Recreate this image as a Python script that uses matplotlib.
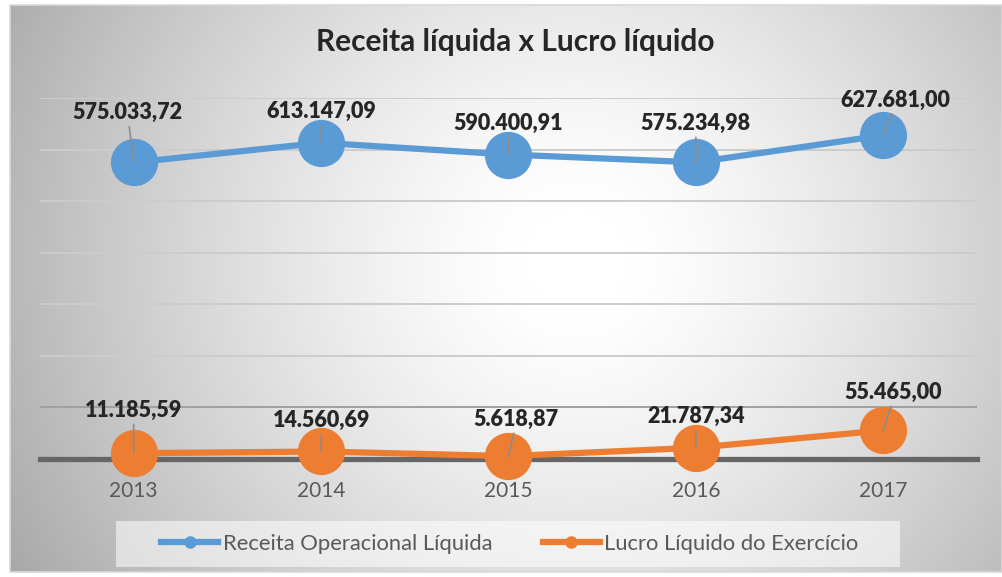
import numpy as np
import matplotlib.pyplot as plt
from matplotlib.lines import Line2D
from matplotlib.patches import Rectangle

years = ["2013", "2014", "2015", "2016", "2017"]
receita = [575033.72, 613147.09, 590400.91, 575234.98, 627681.00]
lucro = [11185.59, 14560.69, 5618.87, 21787.34, 55465.00]
series_names = ["Receita Operacional Líquida", "Lucro Líquido do Exercício"]
title = "Receita líquida x Lucro líquido"

BLUE = "#5b9bd5"
ORANGE = "#ed7d31"
FONT = ["Lato", "DejaVu Sans"]

# label offsets in pixels (dx, dy) from each point
off_receita = [(-6, 50), (0, 31), (0, 31), (0, 39), (12, 35)]
off_lucro = [(0, 43), (0, 31), (7, 37), (0, 31), (10, 38)]


def fmt_br(v):
    s = f"{v:,.2f}"
    return s.replace(",", "X").replace(".", ",").replace("X", ".")


plt.rcParams['font.family'] = FONT
fig = plt.figure(figsize=(10.02, 5.77), dpi=100)

# background: radial gradient inside the chart border
bg = fig.add_axes([10/1002, 5/577, 992/1002, 567/577], zorder=-10)
h, w = 300, 520
yy, xx = np.mgrid[0:h, 0:w]
cx, cy = 0.57 * w, 0.55 * h
d = np.sqrt(((xx - cx) / w) ** 2 + ((yy - cy) / h * 0.6) ** 2)
d = d / d.max()
g = 1 - 0.34 * np.clip((d - 0.08) / 0.92, 0, 1) ** 1.3
bg.imshow(np.dstack([g, g, g]), aspect="auto", extent=[0, 1, 0, 1], origin="lower")
bg.set_axis_off()
fig.patches.append(Rectangle((10/1002, 5/577), 992/1002, 567/577, transform=fig.transFigure,
                             fill=False, ec="#d9d9d9", lw=1.2, zorder=-5))

ax = fig.add_axes([40/1002, 1 - 459/577, 937/1002, 361/577])
ax.patch.set_alpha(0)
x = np.arange(len(years))

ax.set_xlim(-0.5, len(years) - 0.5)
ax.set_ylim(0, 700000)
for yv in np.arange(100000, 700001, 100000):
    ax.axhline(yv, color="#a0a0a0" if yv == 100000 else "#cccccc", lw=1.4, zorder=1)
ax.axhline(0, color="#666666", lw=3.8, zorder=2, clip_on=False)

ax.plot(x, receita, color=BLUE, lw=4.5, marker="o", ms=33, zorder=4, clip_on=False)
ax.plot(x, lucro, color=ORANGE, lw=4.5, marker="o", ms=33, zorder=4, clip_on=False)

for vals, offs in ((receita, off_receita), (lucro, off_lucro)):
    for xi, v, (dx, dy) in zip(x, vals, offs):
        ax.annotate(fmt_br(v), (xi, v), xytext=(dx, dy), textcoords="offset pixels",
                    ha="center", va="center", fontsize=15.5, fontweight="heavy",
                    color="#262626", zorder=6)
        ax.annotate("", (xi, v), xytext=(dx * 0.75, dy - 14), textcoords="offset pixels",
                    arrowprops=dict(arrowstyle="-", color="#8c8c8c", lw=1.2,
                                    shrinkA=0, shrinkB=0), zorder=5)

ax.set_xticks(x)
ax.set_xticklabels(years)
ax.tick_params(axis="x", length=0, labelsize=15, labelcolor="#595959", pad=16)
ax.set_yticks([])
for sp in ax.spines.values():
    sp.set_visible(False)

fig.text(515/1002, 1 - 42/577, title, ha="center", va="center",
         fontsize=21.5, fontweight="bold", color="#262626")

fig.patches.append(Rectangle((116/1002, 1 - 567/577), 784/1002, 46/577,
                             transform=fig.transFigure, color="white", alpha=0.55, lw=0))
handles = [Line2D([], [], color=BLUE, lw=4.5, marker="o", ms=8),
           Line2D([], [], color=ORANGE, lw=4.5, marker="o", ms=8)]
fig.legend(handles, series_names, loc="center", bbox_to_anchor=(510/1002, 1 - 544/577),
           ncol=2, frameon=False, fontsize=15.8, labelcolor="#595959",
           handlelength=2.6, handletextpad=0.2, columnspacing=2.3)

fig.savefig("out.png", dpi=100)
